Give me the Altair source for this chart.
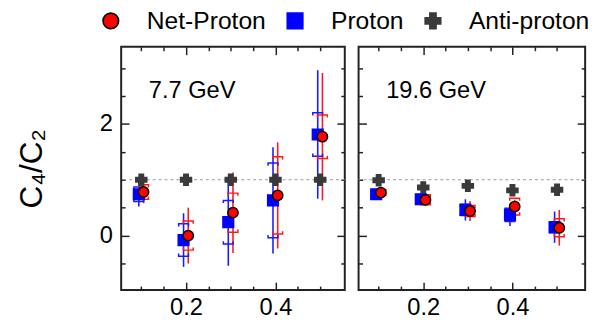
import altair as alt
import pandas as pd

# ---------------- data ----------------
legend_order = ["Net-Proton", "Proton", "Anti-proton"]
fill_colors = ["#ff0000", "#0000ff", "#3a3a3a"]
stroke_colors = ["#000000", "#0000ff", "#3a3a3a"]
err_species = ["Net-Proton", "Proton"]
err_colors = ["#ff1a1a", "#1a1aff"]
shapes = ["circle", "square", "cross"]
size_species = ["Anti-proton", "Proton", "Net-Proton"]
marker_sizes = [125, 110, 140]

pt_bins = [0.1, 0.2, 0.3, 0.4, 0.5]
energy_labels = ["7.7 GeV", "19.6 GeV"]

# 7.7 GeV
net_77 = [0.78, 0.00, 0.41, 0.72, 1.77]
net_77_stat = [0.20, 0.50, 0.72, 0.95, 1.14]
net_77_sys = [0.13, 0.26, 0.35, 0.69, 0.39]
pro_77 = [0.74, -0.08, 0.24, 0.63, 1.81]
pro_77_stat = [0.22, 0.48, 0.78, 0.95, 1.15]
pro_77_sys = [0.13, 0.29, 0.39, 0.67, 0.39]
anti_77 = [1.00, 1.00, 1.00, 1.00, 1.00]

# 19.6 GeV
net_196 = [0.77, 0.64, 0.44, 0.52, 0.14]
net_196_stat = [0.07, 0.10, 0.18, 0.12, 0.32]
net_196_sys = [0.05, 0.09, 0.10, 0.15, 0.16]
pro_196 = [0.74, 0.65, 0.46, 0.37, 0.15]
pro_196_stat = [0.06, 0.10, 0.19, 0.20, 0.28]
pro_196_sys = [0.06, 0.08, 0.10, 0.12, 0.10]
anti_196 = [0.99, 0.86, 0.89, 0.81, 0.82]

zeros = [0.0, 0.0, 0.0, 0.0, 0.0]
reference_level = [1.0]

series = {
    "7.7 GeV": [
        ("Anti-proton", anti_77, zeros, zeros),
        ("Proton", pro_77, pro_77_stat, pro_77_sys),
        ("Net-Proton", net_77, net_77_stat, net_77_sys),
    ],
    "19.6 GeV": [
        ("Anti-proton", anti_196, zeros, zeros),
        ("Proton", pro_196, pro_196_stat, pro_196_sys),
        ("Net-Proton", net_196, net_196_stat, net_196_sys),
    ],
}

rows = []
for energy in energy_labels:
    for order, (name, vals, stat, sys) in enumerate(series[energy]):
        for p, v, s, y in zip(pt_bins, vals, stat, sys):
            rows.append(dict(energy=energy, species=name, order=order, pt=p,
                             val=v, stat=s, sys=y))
df = pd.DataFrame(rows)
ref_df = pd.DataFrame({"ref": reference_level})

# ---------------- style ----------------
FONT = "Liberation Sans"
TICK = "#222222"
dodge = ("datum.pt + (datum.species == 'Proton' ? -0.0055 : "
         "(datum.species == 'Net-Proton' ? 0.005 : 0))")
CAP_UP = "M -1 0.55 L -1 0 L 1 0 L 1 0.55"     # upper bracket, ends point down
CAP_DOWN = "M -1 -0.55 L -1 0 L 1 0 L 1 -0.55"  # lower bracket, ends point up

fill_scale = alt.Scale(domain=legend_order, range=fill_colors)
stroke_scale = alt.Scale(domain=legend_order, range=stroke_colors)
err_scale = alt.Scale(domain=err_species, range=err_colors)
shape_scale = alt.Scale(domain=legend_order, range=shapes)
size_scale = alt.Scale(domain=size_species, range=marker_sizes)

x_major = [0.2, 0.4]
x_minor = [0.1, 0.15, 0.25, 0.3, 0.35, 0.45, 0.5]
y_major = [0, 2]
y_minor = [-0.5, 0.5, 1, 1.5, 2.5, 3]

leg = alt.Legend(
    orient="none", direction="horizontal", legendX=-23, legendY=-39,
    title=None, labelFontSize=25, labelFont=FONT, labelColor="black",
    symbolSize=250, labelOffset=24, columnPadding=17, symbolStrokeWidth=1.6,
    symbolOpacity=1, labelLimit=300,
)


def ax(orient, values, size, labels=False, fmt=None, title=None, pad=6):
    kw = dict(orient=orient, values=values, tickSize=size, offset=-size,
              domain=False, grid=False, ticks=True, tickColor=TICK,
              tickWidth=1.5, labels=labels, title=title)
    if labels:
        kw.update(labelFontSize=24, labelPadding=pad, labelColor="black",
                  labelFont=FONT, format=fmt)
    if title:
        kw.update(titleFontSize=32, titleFont=FONT, titleFontWeight="normal",
                  titleColor="black", titlePadding=52)
    return alt.Axis(**kw)


def panel(energy, first, width, xdom):
    d = df[df.energy == energy]
    xs = alt.Scale(domain=xdom, nice=False, zero=False)
    ys = alt.Scale(domain=[-0.975, 3.38], nice=False, zero=False)
    base = alt.Chart(d).transform_calculate(px=dodge)
    err = base.transform_filter("datum.species != 'Anti-proton'")
    col = alt.Color("species:N", scale=err_scale, legend=None)

    ref = alt.Chart(ref_df).mark_rule(
        strokeDash=[3, 3], color="#9a9a9a", strokeWidth=1
    ).encode(y=alt.Y("ref:Q", scale=ys, axis=None))

    stat = err.transform_calculate(
        lo="datum.val - datum.stat", hi="datum.val + datum.stat"
    ).mark_rule(strokeWidth=1.6).encode(
        x=alt.X("px:Q", scale=xs, axis=ax("bottom", x_major, 8, True, ".1f")),
        y=alt.Y("lo:Q", scale=ys,
                axis=ax("left", y_major, 8, first, "d",
                        "C₄/C₂" if first else None, 9)),
        y2="hi:Q",
        color=col,
    )

    sys_hi = err.transform_calculate(hi="datum.val + datum.sys").mark_point(
        shape=CAP_UP, size=100, strokeWidth=1.5, filled=False, opacity=1
    ).encode(
        x=alt.X("px:Q", scale=xs, axis=ax("bottom", x_minor, 4)),
        y=alt.Y("hi:Q", scale=ys, axis=ax("left", y_minor, 4)),
        color=col,
    )

    sys_lo = err.transform_calculate(lo="datum.val - datum.sys").mark_point(
        shape=CAP_DOWN, size=100, strokeWidth=1.5, filled=False, opacity=1
    ).encode(
        x=alt.X("px:Q", scale=xs, axis=ax("top", x_major, 8)),
        y=alt.Y("lo:Q", scale=ys, axis=ax("right", y_major, 8)),
        color=col,
    )

    pts = base.mark_point(filled=True, strokeWidth=1.5, opacity=1).encode(
        x=alt.X("px:Q", scale=xs, axis=ax("top", x_minor, 4)),
        y=alt.Y("val:Q", scale=ys, axis=ax("right", y_minor, 4)),
        fill=alt.Fill("species:N", scale=fill_scale, legend=leg),
        shape=alt.Shape("species:N", scale=shape_scale, legend=leg),
        stroke=alt.Stroke("species:N", scale=stroke_scale, legend=leg),
        size=alt.Size("species:N", scale=size_scale, legend=None),
        order=alt.Order("order:Q"),
    )

    txt = alt.Chart(pd.DataFrame({"label": [energy]})).mark_text(
        align="left", baseline="middle", fontSize=24, font=FONT, color="black"
    ).encode(x=alt.value(28), y=alt.value(45), text="label:N")

    return alt.layer(ref, stat, sys_hi, sys_lo, pts, txt).resolve_axis(
        x="independent", y="independent"
    ).properties(width=width, height=247)


left = panel("7.7 GeV", True, 227, [0.055, 0.555])
right = panel("19.6 GeV", False, 230, [0.055, 0.563])

chart = alt.hconcat(left, right, spacing=10).properties(
    padding={"left": 14, "top": 6, "right": 5, "bottom": 2}
).configure(font=FONT).configure_view(stroke="#222222", strokeWidth=2)

chart.save("out.html", embed_options={"renderer": "svg", "actions": False})
